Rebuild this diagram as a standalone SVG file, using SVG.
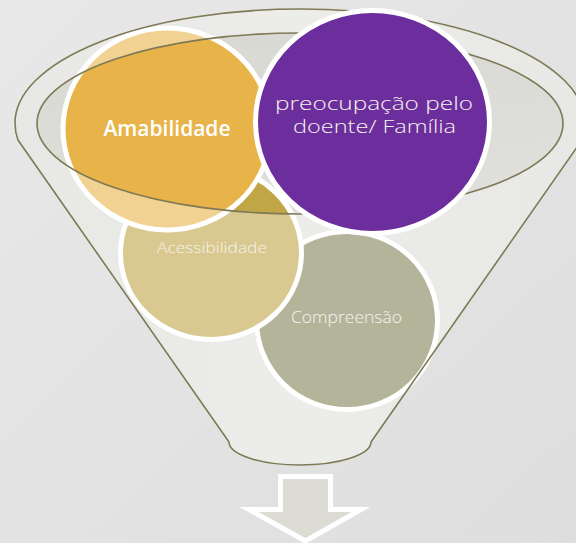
<svg xmlns="http://www.w3.org/2000/svg" width="576" height="543" viewBox="0 0 576 543">
  <defs>
    <linearGradient id="bg" x1="0" y1="0" x2="1" y2="1">
      <stop offset="0" stop-color="#e8e8e8"/>
      <stop offset="1" stop-color="#dedede"/>
    </linearGradient>
    <linearGradient id="bodyFill" x1="0" y1="0" x2="1" y2="0">
      <stop offset="0" stop-color="#d8d8d4"/>
      <stop offset="0.5" stop-color="#e0e0dc"/>
      <stop offset="1" stop-color="#d8d8d4"/>
    </linearGradient>
    <linearGradient id="mouthFill" x1="0" y1="0" x2="0.3" y2="1">
      <stop offset="0" stop-color="#d8d8d3"/>
      <stop offset="1" stop-color="#dfdfdb"/>
    </linearGradient>
    <style>
      .outline { fill: none; stroke: #7d7a55; stroke-width: 1.6; }
      .bubble { stroke: #ffffff; stroke-width: 5; }
      .lbl { font-family: "Open Sans", "DejaVu Sans", sans-serif; fill: #f6f4ee; text-anchor: middle; font-weight: 300; }
    </style>
  </defs>

  <rect width="576" height="543" fill="url(#bg)"/>

  <g id="funnel-back">
    <path d="M 15,123 A 285 114 0 0 1 585,123 Q 585,132 582,140 L 371,442 A 71 23 0 0 1 229,442 L 18,140 Q 15,132 15,123 Z" fill="url(#bodyFill)"/>
    <ellipse cx="300" cy="123.5" rx="263" ry="90.5" fill="url(#mouthFill)"/>
  </g>

  <g id="compreensao">
    <ellipse class="bubble" cx="347" cy="320.5" rx="90.5" ry="89" fill="#828259"/>
  </g>
  <g id="acessibilidade">
    <ellipse class="bubble" cx="211" cy="253" rx="90.5" ry="86.5" fill="#c0a646"/>
  </g>
  <g id="amabilidade">
    <ellipse class="bubble" cx="167" cy="129" rx="104" ry="101" fill="#e8b44a"/>
  </g>

  <g id="funnel-front">
    <path d="M 15,123 A 285 114 0 0 1 585,123 Q 585,132 582,140 L 371,442 A 71 23 0 0 1 229,442 L 18,140 Q 15,132 15,123 Z M 37,123.5 A 263 90.5 0 1 0 563,123.5 A 263 90.5 0 1 0 37,123.5 Z" fill="#ffffff" fill-opacity="0.4" fill-rule="evenodd"/>
    <path class="outline" d="M 15,123 A 285 114 0 0 1 585,123 Q 585,132 582,140 L 371,442 A 71 23 0 0 1 229,442 L 18,140 Q 15,132 15,123 Z"/>
    <ellipse class="outline" cx="300" cy="123.5" rx="263" ry="90.5"/>
  </g>

  <g id="labels-lower">
    <text class="lbl" x="212" y="253" font-size="15" textLength="110" lengthAdjust="spacingAndGlyphs">Acessibilidade</text>
    <text class="lbl" x="346.5" y="323" font-size="16.5" textLength="111" lengthAdjust="spacingAndGlyphs">Compreensão</text>
    <text x="167" y="136" font-family="'Open Sans', 'Liberation Sans', sans-serif" font-weight="600" font-size="21" fill="#ffffff" text-anchor="middle" textLength="127" lengthAdjust="spacingAndGlyphs">Amabilidade</text>
  </g>

  <g id="preocupacao">
    <ellipse class="bubble" cx="372.5" cy="122" rx="117" ry="111.5" fill="#6d2e9d"/>
    <text class="lbl" x="374" y="109.5" font-size="19" fill="#f3eef8" textLength="198" lengthAdjust="spacingAndGlyphs">preocupação pelo</text>
    <text class="lbl" x="374.5" y="133" font-size="19" fill="#f3eef8" textLength="163" lengthAdjust="spacingAndGlyphs">doente/ Família</text>
  </g>

  <g id="arrow">
    <path d="M 280.5,476.5 L 330.5,476.5 L 330.5,509.5 L 361,509.5 L 305.5,541 L 249,509.5 L 280.5,509.5 Z" fill="#dcdcd4" stroke="#ffffff" stroke-width="5"/>
  </g>
</svg>
